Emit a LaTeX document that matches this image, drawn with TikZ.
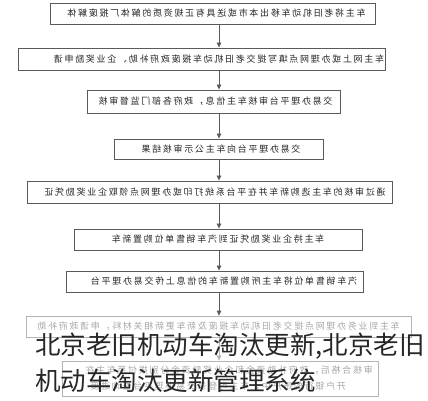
\documentclass[tikz,border=0pt]{standalone}
\usepackage{graphicx}
\usepackage{fontspec}
\newfontfamily\boxfont[LetterSpace=19]{Noto Sans CJK SC}
\newfontfamily\bigfont{Noto Sans CJK SC}
\usetikzlibrary{arrows.meta}
\definecolor{edge}{HTML}{5A5A5A}
\definecolor{faint}{HTML}{B4B4B4}
\definecolor{fainttext}{HTML}{A8A8A8}
\definecolor{overlay}{HTML}{262626}
\tikzset{
  stepbox/.style={draw=edge, line width=1pt, rectangle, inner sep=0pt},
  fadebox/.style={draw=faint, line width=0.8pt, rectangle, inner sep=0pt},
  boxtext/.style={inner sep=0pt, font=\boxfont\fontsize{9}{11}\selectfont, text=black!85},
  fadetext/.style={inner sep=0pt, font=\boxfont\fontsize{9}{11}\selectfont, text=fainttext},
  arr/.style={draw=edge, line width=0.8pt, -{Triangle[width=4.5pt,length=5pt]}},
  fadearr/.style={draw=faint, line width=0.7pt, -{Triangle[width=4.5pt,length=5pt]}},
  bigtext/.style={inner sep=0pt, anchor=base west, font=\bigfont\fontsize{25.5}{30}\selectfont, text=overlay},
}
\begin{document}
\begin{tikzpicture}[x=1pt,y=-1pt]
\useasboundingbox (0,0) rectangle (428,400);
\fill[white] (0,0) rectangle (428,400);
\coordinate (ax) at (219,0);
% boxes
\node[stepbox, minimum width=325pt, minimum height=21pt] (b1) at (212.5,13.5) {};
\node[stepbox, minimum width=367pt, minimum height=22pt] (b2) at (201.5,59) {};
\node[stepbox, minimum width=253pt, minimum height=23pt] (b3) at (213.5,101.5) {};
\node[stepbox, minimum width=209pt, minimum height=20pt] (b4) at (218.5,149) {};
\node[stepbox, minimum width=365pt, minimum height=22pt] (b5) at (209.5,192) {};
\node[stepbox, minimum width=288pt, minimum height=21pt] (b6) at (218,239.5) {};
\node[stepbox, minimum width=297pt, minimum height=21pt] (b7) at (214.5,281.5) {};
\node[fadebox, minimum width=385pt, minimum height=21pt] (b8) at (218.5,326.5) {};
\node[fadebox, minimum width=316pt, minimum height=35pt] (b9) at (220,378.5) {};
% texts (mirrored as printed)
\node[boxtext, xshift=4pt] (t1) at (b1) {\reflectbox{车主将老旧机动车移出本市或送具有正规资质的解体厂报废解体}};
\node[boxtext, xshift=17.5pt] (t2) at (b2) {\reflectbox{车主网上或办理网点填写提交老旧机动车报废政府补助、企业奖励申请}};
\node[boxtext, xshift=2pt] (t3) at (b3) {\reflectbox{交易办理平台审核车主信息，政府各部门监督审核}};
\node[boxtext, xshift=2.5pt] (t4) at (b4) {\reflectbox{交易办理平台向车主公示审核结果}};
\node[boxtext, xshift=5.5pt] (t5) at (b5) {\reflectbox{通过审核的车主选购新车并在平台系统打印或办理网点领取企业奖励凭证}};
\node[boxtext] (t6) at (b6) {\reflectbox{车主持企业奖励凭证到汽车销售单位购置新车}};
\node[boxtext, xshift=9.5pt] (t7) at (b7) {\reflectbox{汽车销售单位将车主所购置新车的信息上传交易办理平台}};
\node[fadetext] (t8) at (b8) {\reflectbox{车主到业务办理网点提交老旧机动车报废及新车更新相关材料，申请政府补助}};
\node[fadetext, anchor=east] (t9a) at (373,370) {\reflectbox{审核合格后，政府补助资金和企业奖励资金分别拨付至车主在}};
\node[fadetext, anchor=east] (t9b) at (346,386) {\reflectbox{开户银行的账户中，车主可登录交易办理平台查询进度}};
% arrows
\draw[arr] (b1.south -| ax) -- (b2.north -| ax);
\draw[arr] (b2.south -| ax) -- (b3.north -| ax);
\draw[arr] (b3.south -| ax) -- (b4.north -| ax);
\draw[arr] (b4.south -| ax) -- (b5.north -| ax);
\draw[arr] (b5.south -| ax) -- (b6.north -| ax);
\draw[arr] (b6.south -| ax) -- (b7.north -| ax);
\draw[arr] (b7.south -| ax) -- (b8.north -| ax);
\draw[fadearr] (b8.south -| ax) -- (b9.north -| ax);
% overlay caption
\node[bigtext] (cap1) at (35,354) {北京老旧机动车淘汰更新,北京老旧};
\node[bigtext] (cap2) at (35,390) {机动车淘汰更新管理系统};
\end{tikzpicture}
\end{document}
